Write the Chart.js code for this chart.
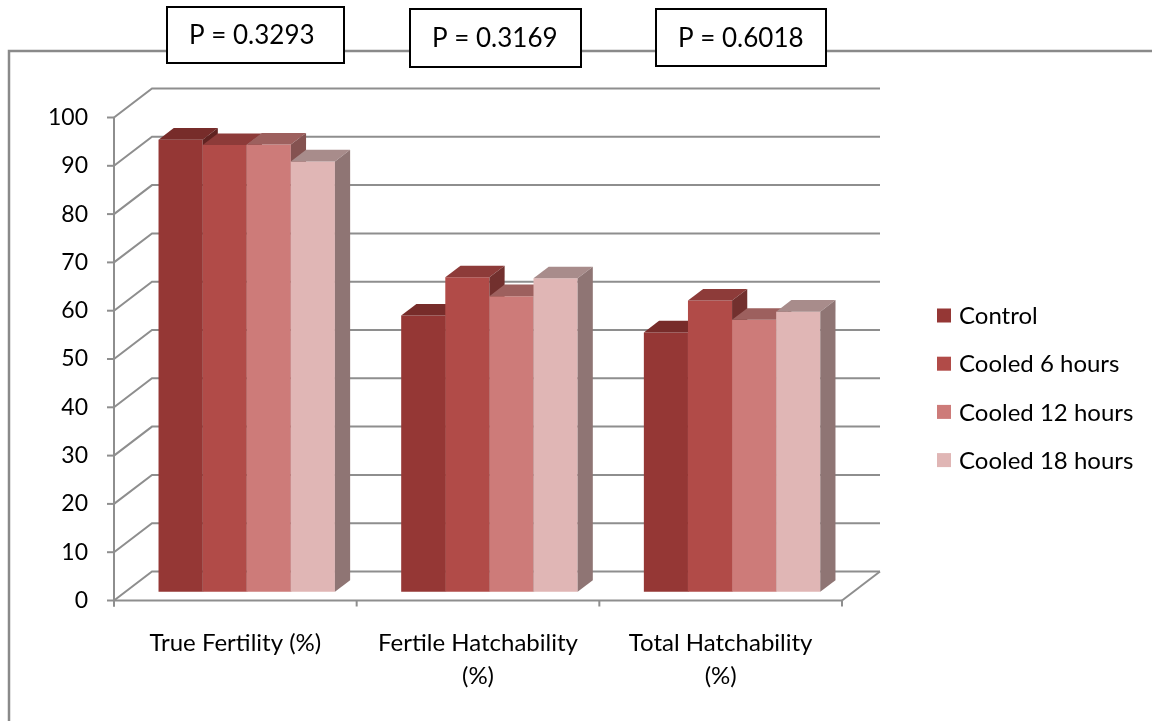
<!DOCTYPE html>
<html>
<head>
<meta charset="utf-8">
<title>Fertility and hatchability by cooling time</title>
<script src="https://cdn.jsdelivr.net/npm/chart.js@4.4.1/dist/chart.umd.min.js"></script>
<style>
  html, body { margin: 0; padding: 0; background: #ffffff; }
  #wrap { position: relative; width: 1152px; height: 721px; }
</style>
</head>
<body>
<div id="wrap"><canvas id="chart" width="1152" height="721"></canvas></div>
<script>
// ---- data ----
const categories = ['True Fertility (%)', ['Fertile Hatchability', '(%)'], ['Total Hatchability', '(%)']];
const seriesNames = ['Control', 'Cooled 6 hours', 'Cooled 12 hours', 'Cooled 18 hours'];
const control  = [93.6, 57.2, 53.7];
const cooled6  = [92.5, 65.1, 60.3];
const cooled12 = [92.6, 61.2, 56.3];
const cooled18 = [89.1, 64.9, 58.0];
const pValues  = ['P = 0.3293', 'P = 0.3169', 'P = 0.6018'];
const yMin = 0, yMax = 100, yStep = 10;

// ---- styling ----
const FONT = 'Lato, "Open Sans", sans-serif';
const frontColors = ['#953735', '#b14b48', '#cd7b79', '#e0b6b5'];
const topColors   = ['#772c2a', '#8d3b39', '#9d605e', '#a88c8b'];
const sideColors  = ['#602321', '#72302e', '#845250', '#8f7574'];
const GRID = '#8e8e8e';

// oblique depth of the floor (front edge -> back wall), bar placement in that depth
const DX = 38, DY = -29;
const BAR_Z = 0.3;   // front face of the bars
const BAR_D = 0.4;   // bar thickness

// p-value boxes along the top frame
const pBoxes = [
  { x: 167, y: 7, w: 177, h: 56 },
  { x: 410, y: 9, w: 171, h: 58 },
  { x: 656, y: 9, w: 170, h: 57 }
];

const legendLayout = { x: 937, y0: 315.5, dy: 48.2, box: 14, gap: 8 };

const seriesData = [control, cooled6, cooled12, cooled18];

function line(ctx, x1, y1, x2, y2) {
  ctx.beginPath();
  ctx.moveTo(x1, y1);
  ctx.lineTo(x2, y2);
  ctx.stroke();
}

const box3d = {
  id: 'box3d',
  beforeDraw(chart) {
    const ctx = chart.ctx;
    ctx.save();
    ctx.strokeStyle = '#8a8a8a';
    ctx.lineWidth = 2.5;
    ctx.beginPath();
    ctx.moveTo(1152, 51);
    ctx.lineTo(9, 51);
    ctx.lineTo(9, 721);
    ctx.stroke();
    ctx.restore();
  },
  beforeDatasetsDraw(chart) {
    const ctx = chart.ctx;
    const ys = chart.scales.y;
    const L = chart.chartArea.left, R = chart.chartArea.right;
    const B = ys.getPixelForValue(yMin), T = ys.getPixelForValue(yMax);
    ctx.save();
    ctx.strokeStyle = GRID;
    ctx.lineWidth = 2;
    // side wall diagonals + back wall gridlines
    for (let v = yMin; v <= yMax; v += yStep) {
      const y = ys.getPixelForValue(v);
      ctx.beginPath();
      ctx.moveTo(L, y);
      ctx.lineTo(L + DX, y + DY);
      ctx.lineTo(R + DX, y + DY);
      ctx.stroke();
      line(ctx, L - 7, y, L, y);
    }
    // value axis
    line(ctx, L, T, L, B + 6);
    // floor front edge and right edge
    line(ctx, L, B, R, B);
    line(ctx, R, B, R + DX, B + DY);
    // category tick marks at group boundaries
    const n = categories.length;
    for (let i = 0; i <= n; i++) {
      const x = L + (R - L) * i / n;
      line(ctx, x, B, x, B + 6);
    }
    ctx.restore();
  },
  // the column bodies are painted together below, in back-to-front order
  beforeDatasetDraw() {
    return false;
  },
  afterDatasetsDraw(chart) {
    const ctx = chart.ctx;
    const bdx = DX * BAR_D, bdy = DY * BAR_D;
    ctx.save();
    ctx.translate(DX * BAR_Z, DY * BAR_Z);
    for (let i = 0; i < chart.data.datasets.length; i++) {
      const meta = chart.getDatasetMeta(i);
      meta.data.forEach(el => {
        el.draw(ctx);
        const p = el.getProps(['x', 'y', 'base', 'width'], true);
        const l = p.x - p.width / 2, r = p.x + p.width / 2;
        const top = Math.min(p.y, p.base), bot = Math.max(p.y, p.base);
        ctx.fillStyle = topColors[i];
        ctx.beginPath();
        ctx.moveTo(l, top);
        ctx.lineTo(r, top);
        ctx.lineTo(r + bdx, top + bdy);
        ctx.lineTo(l + bdx, top + bdy);
        ctx.closePath();
        ctx.fill();
        ctx.fillStyle = sideColors[i];
        ctx.beginPath();
        ctx.moveTo(r, top);
        ctx.lineTo(r + bdx, top + bdy);
        ctx.lineTo(r + bdx, bot + bdy);
        ctx.lineTo(r, bot);
        ctx.closePath();
        ctx.fill();
      });
    }
    ctx.restore();
  },
  afterDraw(chart) {
    const ctx = chart.ctx;
    ctx.save();
    // legend
    ctx.font = '24px ' + FONT;
    ctx.textBaseline = 'middle';
    ctx.textAlign = 'left';
    seriesNames.forEach((name, i) => {
      const cy = legendLayout.y0 + legendLayout.dy * i;
      ctx.fillStyle = frontColors[i];
      ctx.fillRect(legendLayout.x, cy - legendLayout.box / 2, legendLayout.box, legendLayout.box);
      ctx.fillStyle = '#000';
      ctx.fillText(name, legendLayout.x + legendLayout.box + legendLayout.gap, cy + 1);
    });
    // p-value boxes
    ctx.font = '26px ' + FONT;
    pValues.forEach((txt, i) => {
      const b = pBoxes[i];
      ctx.fillStyle = '#fff';
      ctx.fillRect(b.x, b.y, b.w, b.h);
      ctx.strokeStyle = '#000';
      ctx.lineWidth = 2;
      ctx.strokeRect(b.x, b.y, b.w, b.h);
      ctx.fillStyle = '#000';
      ctx.fillText(txt, b.x + 22, b.y + b.h / 2 + 1);
    });
    ctx.restore();
  }
};

new Chart(document.getElementById('chart'), {
  type: 'bar',
  data: {
    labels: categories,
    datasets: seriesNames.map((name, i) => ({
      label: name,
      data: seriesData[i],
      backgroundColor: frontColors[i],
      borderWidth: 0,
      categoryPercentage: 0.727,
      barPercentage: 1.0
    }))
  },
  options: {
    responsive: false,
    devicePixelRatio: 1,
    animation: false,
    layout: { padding: { left: 0, top: 117.5, right: 310, bottom: 0 } },
    plugins: {
      legend: { display: false },
      tooltip: { enabled: false }
    },
    scales: {
      x: {
        type: 'category',
        grid: { display: false, drawTicks: false },
        border: { display: false },
        ticks: {
          color: '#000',
          font: { family: FONT, size: 24, lineHeight: '33px' },
          padding: 26,
          maxRotation: 0,
          minRotation: 0,
          autoSkip: false
        },
        afterFit(scale) { scale.height = 120.5; }
      },
      y: {
        min: yMin,
        max: yMax,
        grid: { display: false, drawTicks: false },
        border: { display: false },
        ticks: {
          stepSize: yStep,
          color: '#000',
          font: { family: FONT, size: 23 },
          padding: 26
        },
        afterFit(scale) { scale.width = 114; }
      }
    }
  },
  plugins: [box3d]
});
</script>
</body>
</html>
